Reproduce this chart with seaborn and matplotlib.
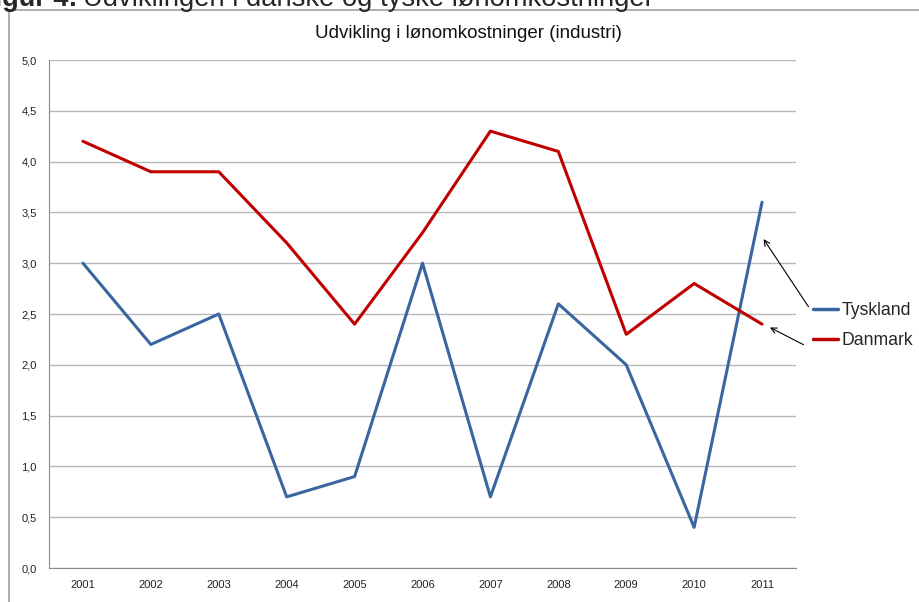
import pandas as pd
import numpy as np
import seaborn as sns
import matplotlib.pyplot as plt
from matplotlib.patches import Rectangle
from matplotlib.lines import Line2D
from matplotlib.ticker import FixedLocator

years = [2001, 2002, 2003, 2004, 2005, 2006, 2007, 2008, 2009, 2010, 2011]
tyskland = [3.0, 2.2, 2.5, 0.7, 0.9, 3.0, 0.7, 2.6, 2.0, 0.4, 3.6]
danmark = [4.2, 3.9, 3.9, 3.2, 2.4, 3.3, 4.3, 4.1, 2.3, 2.8, 2.4]
series = ["Tyskland", "Danmark"]
colors = ["#3A66A0", "#C00000"]
yticks = [0.0, 0.5, 1.0, 1.5, 2.0, 2.5, 3.0, 3.5, 4.0, 4.5, 5.0]
ylabels = ["0,0", "0,5", "1,0", "1,5", "2,0", "2,5", "3,0", "3,5", "4,0", "4,5", "5,0"]

df = pd.DataFrame({"Year": years * 2,
                   "Value": tyskland + danmark,
                   "Land": ["Tyskland"] * len(years) + ["Danmark"] * len(years)})

sns.set_style("white")
plt.rcParams["font.family"] = ["Liberation Sans", "DejaVu Sans"]

fig = plt.figure(figsize=(9.19, 6.02), dpi=100)
ax = fig.add_axes([49 / 919, 34 / 602, (796 - 49) / 919, (568 - 60) / 602])

sns.lineplot(data=df, x="Year", y="Value", hue="Land", hue_order=series,
             palette=colors, linewidth=2.2, ax=ax, legend=False)

ax.set_xlim(2000.5, 2011.5)
ax.set_ylim(0, 5)
ax.set_yticks(yticks)
ax.set_yticklabels(ylabels)
ax.set_xticks(years)
ax.set_xticklabels([str(y) for y in years])
ax.xaxis.set_minor_locator(FixedLocator(np.arange(2000.5, 2012, 1)))
ax.tick_params(axis="x", which="major", length=0, labelsize=8, pad=9, colors="#222222")
ax.tick_params(axis="x", which="minor", length=5, color="#888888", direction="out")
ax.tick_params(axis="y", length=4, color="#888888", direction="out", labelsize=8,
               labelcolor="#222222", pad=5)
ax.grid(axis="y", color="#B8B8B8", linewidth=1)
ax.grid(axis="x", visible=False)
for s in ["top", "right"]:
    ax.spines[s].set_visible(False)
for s in ["left", "bottom"]:
    ax.spines[s].set_color("#888888")
ax.set_xlabel("")
ax.set_ylabel("")

fig.text(468 / 919, (602 - 33) / 602, "Udvikling i lønomkostninger (industri)",
         fontsize=13.5, ha="center", va="center", color="#111111")

# legend at the right
handles = [Line2D([], [], color=c, linewidth=2.5) for c in colors]
fig.legend(handles, series, loc="upper left", bbox_to_anchor=(813 / 919, (602 - 302) / 602),
           frameon=False, fontsize=12.7, handlelength=1.4, handletextpad=0.2, labelspacing=0.75,
           borderaxespad=0, borderpad=0)

# arrows from legend to line ends
ax.annotate("", xy=(2011.0, 3.26), xycoords="data",
            xytext=(810 / 919, (602 - 309) / 602), textcoords="figure fraction",
            arrowprops=dict(arrowstyle="->", color="black", linewidth=0.8))
ax.annotate("", xy=(2011.08, 2.38), xycoords="data",
            xytext=(806 / 919, (602 - 346) / 602), textcoords="figure fraction",
            arrowprops=dict(arrowstyle="->", color="black", linewidth=0.8))

# outer chart frame and figure caption, cut at the top edge as in the source
fig.patches.append(Rectangle((9 / 919, -0.1), 2, (602 - 10) / 602 + 0.1,
                             transform=fig.transFigure, fill=False,
                             edgecolor="#A0A0A0", linewidth=1.2))
fig.text(78 / 919, (602 - 6) / 602, "Figur 4:", fontsize=19.5, fontweight="bold",
         ha="right", va="baseline")
fig.text(83 / 919, (602 - 6) / 602, "Udviklingen i danske og tyske lønomkostninger",
         fontsize=19.7, va="baseline")

fig.savefig("out.png", dpi=100)
